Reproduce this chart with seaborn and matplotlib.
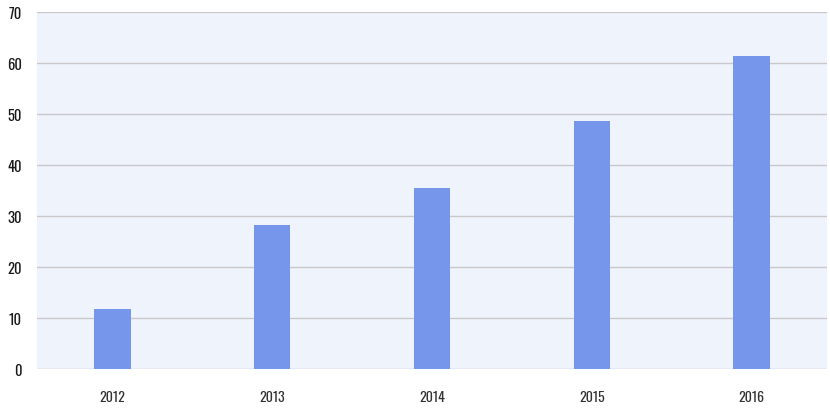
import matplotlib
matplotlib.use("Agg")
import matplotlib.pyplot as plt
import seaborn as sns
import pandas as pd
from matplotlib import font_manager

years = ["2012", "2013", "2014", "2015", "2016"]
values = [11.8, 28.2, 35.5, 48.6, 61.4]
y_ticks = [0, 10, 20, 30, 40, 50, 60, 70]

sns.set_theme(style="white")
names = {f.name for f in font_manager.fontManager.ttflist}
fam = "DejaVu Sans"
for cand in ["Oswald", "Barlow Condensed", "Roboto Condensed", "Asap Condensed", "Archivo Narrow"]:
    if cand in names:
        fam = cand
        break
plt.rcParams['font.family'] = [fam, 'DejaVu Sans']

df = pd.DataFrame({"year": years, "value": values})

fig = plt.figure(figsize=(8.3, 4.1), dpi=100)
ax = fig.add_axes([37/830, 40/410, 790/830, 357/410])
ax.set_facecolor("#EFF3FC")
sns.barplot(data=df, x="year", y="value", color="#7596EA", width=0.23,
            saturation=1, linewidth=0, ax=ax, zorder=3)
ax.set_xlim(-0.47, 4.47)
ax.set_ylim(0, 70)
ax.set_yticks(y_ticks)
ax.yaxis.grid(True, color="#C9C9CC", linewidth=1, zorder=0)
ax.set_axisbelow(True)
for s in ax.spines.values():
    s.set_visible(False)
ax.set_xlabel("")
ax.set_ylabel("")
ax.tick_params(axis="both", length=0)
ax.tick_params(axis="x", pad=15, labelsize=10, labelcolor="#333333")
ax.tick_params(axis="y", pad=11, labelsize=10.5, labelcolor="#1a1a1a")
for t in ax.get_yticklabels():
    t.set_fontweight("bold")
for t in ax.get_xticklabels():
    t.set_fontweight("light")
fig.savefig("out.png", dpi=100, facecolor="white")
